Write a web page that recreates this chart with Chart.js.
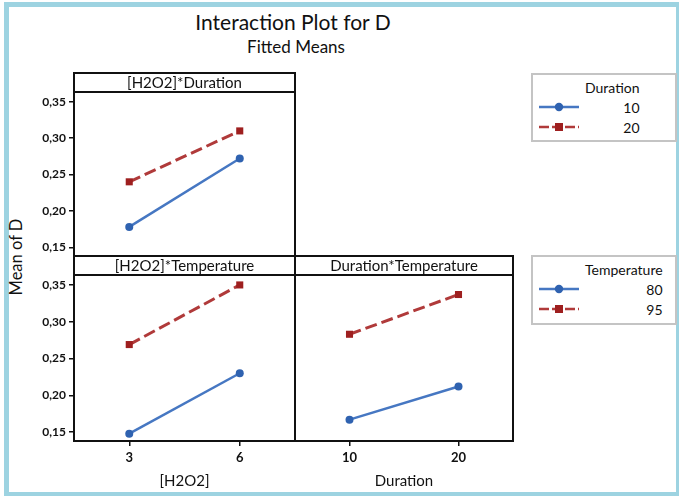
<!DOCTYPE html>
<html>
<head>
<meta charset="utf-8">
<script src="https://cdn.jsdelivr.net/npm/chart.js@4.4.1/dist/chart.umd.min.js"></script>
<style>
  html, body { margin: 0; padding: 0; background: #fff; }
  body { width: 679px; height: 496px; position: relative; overflow: hidden; font-family: Lato, sans-serif; color: #111; }
  .frame { position: absolute; left: 4px; top: 2px; width: 667px; height: 485px; border: 5px solid #9dd3e1; border-right-width: 3px; }
  .title { position: absolute; left: 0; width: 586px; text-align: center; white-space: nowrap; }
  #t1 { top: 9px; font-size: 21px; line-height: 26px; }
  #t2 { top: 37px; font-size: 17px; line-height: 20px; width: 592px; }
  #ylab { position: absolute; left: 16px; top: 257px; transform: translate(-50%, -50%) rotate(-90deg); font-size: 16.5px; white-space: nowrap; }
  canvas { position: absolute; }
  .legend { position: absolute; left: 531px; width: 142px; border: 2px solid #c4c4c4; }
  .legend svg { position: absolute; left: 4px; top: 0; }
  .legend .txt { position: absolute; left: 52px; top: 0; text-align: right; font-size: 14px; line-height: 20px; }
</style>
</head>
<body>
<div class="frame"></div>
<div class="title" id="t1">Interaction Plot for D</div>
<div class="title" id="t2">Fitted Means</div>
<div id="ylab">Mean of D</div>

<canvas id="pA" width="300" height="200" style="left:0;top:60px"></canvas>
<canvas id="pB" width="300" height="246" style="left:0;top:250px"></canvas>
<canvas id="pC" width="230" height="246" style="left:290px;top:250px"></canvas>

<div class="legend" id="legDur" style="top:73px;height:65px"></div>
<div class="legend" id="legTemp" style="top:255px;height:66px"></div>

<script>
// factor levels
const h2o2Levels = ["3", "6"];
const durLevels = ["10", "20"];
const tempLevels = ["80", "95"];
const yTicks = [0.15, 0.20, 0.25, 0.30, 0.35];

// fitted means, [H2O2]*Duration
const hdDur10 = [0.178, 0.272];
const hdDur20 = [0.240, 0.310];
// [H2O2]*Temperature
const htTemp80 = [0.148, 0.230];
const htTemp95 = [0.269, 0.350];
// Duration*Temperature
const dtTemp80 = [0.167, 0.212];
const dtTemp95 = [0.283, 0.337];

const BLUE = "#2f62b0";
const BLUE_LINE = "#4677c2";
const RED = "#9e1f1f";
const RED_LINE = "#b03a3a";
const INK = "#111";

// strip box on top of each panel + frame round the plot area
const panelFrame = {
  id: "panelFrame",
  afterDraw(chart, args, opts) {
    const { ctx, chartArea: a } = chart;
    ctx.save();
    ctx.strokeStyle = INK;
    ctx.lineWidth = 2;
    ctx.strokeRect(a.left, a.top - 19, a.right - a.left, 19);
    ctx.strokeRect(a.left, a.top, a.right - a.left, a.bottom - a.top);
    ctx.fillStyle = INK;
    ctx.font = "15px Lato";
    ctx.textAlign = "center";
    ctx.textBaseline = "middle";
    ctx.fillText(opts.text, (a.left + a.right) / 2, a.top - 9);
    ctx.restore();
  }
};

function lineSet(label, data, low) {
  return {
    label,
    data,
    borderColor: low ? BLUE_LINE : RED_LINE,
    backgroundColor: low ? BLUE : RED,
    pointBackgroundColor: low ? BLUE : RED,
    pointBorderColor: low ? BLUE : RED,
    pointBorderWidth: 0,
    pointStyle: low ? "circle" : "rect",
    pointRadius: low ? 4 : 5,
    borderWidth: low ? 2.5 : 3,
    borderDash: low ? [] : [12, 5],
    tension: 0
  };
}

function makePanel(id, labels, sets, strip, opt) {
  const showX = !!opt.xTitle;
  new Chart(document.getElementById(id), {
    type: "line",
    data: { labels, datasets: sets },
    plugins: [panelFrame],
    options: {
      responsive: false,
      animation: false,
      layout: { autoPadding: false, padding: opt.padding },
      plugins: {
        legend: { display: false },
        tooltip: { enabled: false },
        panelFrame: { text: strip }
      },
      scales: {
        x: {
          type: "category",
          offset: true,
          display: showX,
          grid: { drawOnChartArea: false, drawTicks: true, tickLength: 5, color: INK, lineWidth: 1.5 },
          border: { display: false },
          ticks: { color: INK, padding: 4, font: { family: "Lato", size: 13, weight: "bold" } },
          title: { display: showX, text: opt.xTitle, color: INK, padding: { top: 0, bottom: 6 }, font: { family: "Lato", size: 15 } },
          afterFit: s => {
            s.height = showX ? 55 : 0;
            s.paddingLeft = 0;
            s.paddingRight = 0;
          }
        },
        y: {
          type: "linear",
          min: 0.138,
          max: 0.3635,
          display: opt.showY,
          afterBuildTicks: s => { s.ticks = yTicks.map(v => ({ value: v })); },
          grid: { drawOnChartArea: false, drawTicks: true, tickLength: 5, color: INK, lineWidth: 1.5 },
          border: { display: false },
          ticks: {
            color: INK,
            padding: 3,
            font: { family: "Lato", size: 12, weight: "bold" },
            callback: v => v.toFixed(2).replace(".", ",")
          },
          afterFit: s => {
            s.width = opt.showY ? 74 : 0;
            s.paddingTop = 0;
            s.paddingBottom = 0;
          }
        }
      }
    }
  });
}

makePanel("pA", h2o2Levels,
  [lineSet("10", hdDur10, true), lineSet("20", hdDur20, false)],
  "[H2O2]*Duration",
  { showY: true, padding: { left: 0, top: 32, right: 5, bottom: 4 } });

makePanel("pB", h2o2Levels,
  [lineSet("80", htTemp80, true), lineSet("95", htTemp95, false)],
  "[H2O2]*Temperature",
  { showY: true, xTitle: "[H2O2]", padding: { left: 0, top: 25, right: 5, bottom: 0 } });

makePanel("pC", durLevels,
  [lineSet("80", dtTemp80, true), lineSet("95", dtTemp95, false)],
  "Duration*Temperature",
  { showY: false, xTitle: "Duration", padding: { left: 5, top: 25, right: 7, bottom: 0 } });

// legend boxes: header, then one row per level
function makeLegend(id, title, levels) {
  const box = document.getElementById(id);
  const sym = levels.map((lv, i) => {
    const y = 32 + i * 20;
    return i === 0
      ? `<line x1="2" y1="${y}" x2="42" y2="${y}" stroke="${BLUE_LINE}" stroke-width="2.5"/><circle cx="22" cy="${y}" r="4.2" fill="${BLUE}"/>`
      : `<line x1="2" y1="${y}" x2="42" y2="${y}" stroke="${RED_LINE}" stroke-width="2.5" stroke-dasharray="10,3"/><rect x="18" y="${y - 4}" width="8" height="8" fill="${RED}"/>`;
  }).join("");
  box.innerHTML =
    `<svg width="50" height="66">${sym}</svg>` +
    `<div class="txt" style="top:3px">${title}<br>${levels.join("<br>")}</div>`;
}
makeLegend("legDur", "Duration", durLevels);
makeLegend("legTemp", "Temperature", tempLevels);
</script>
</body>
</html>
